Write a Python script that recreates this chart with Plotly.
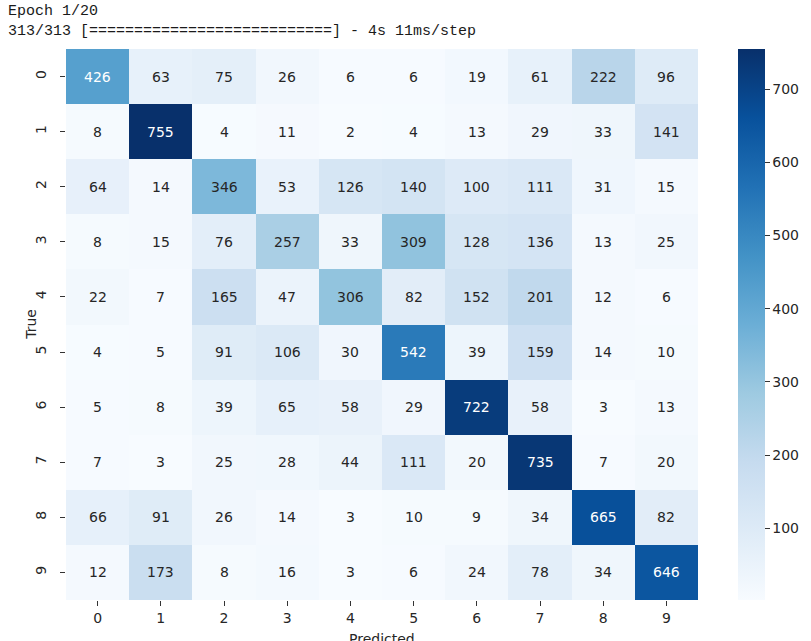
import plotly.graph_objects as go
import plotly.colors as pc

# Confusion matrix after epoch 1 (rows: true class, columns: predicted class)
classes = ["0", "1", "2", "3", "4", "5", "6", "7", "8", "9"]
row_0 = [426, 63, 75, 26, 6, 6, 19, 61, 222, 96]
row_1 = [8, 755, 4, 11, 2, 4, 13, 29, 33, 141]
row_2 = [64, 14, 346, 53, 126, 140, 100, 111, 31, 15]
row_3 = [8, 15, 76, 257, 33, 309, 128, 136, 13, 25]
row_4 = [22, 7, 165, 47, 306, 82, 152, 201, 12, 6]
row_5 = [4, 5, 91, 106, 30, 542, 39, 159, 14, 10]
row_6 = [5, 8, 39, 65, 58, 29, 722, 58, 3, 13]
row_7 = [7, 3, 25, 28, 44, 111, 20, 735, 7, 20]
row_8 = [66, 91, 26, 14, 3, 10, 9, 34, 665, 82]
row_9 = [12, 173, 8, 16, 3, 6, 24, 78, 34, 646]
matrix = [row_0, row_1, row_2, row_3, row_4, row_5, row_6, row_7, row_8, row_9]
colorbar_ticks = [100, 200, 300, 400, 500, 600, 700]
header_lines = ["Epoch 1/20", "313/313 [===========================] - 4s 11ms/step"]

W, H = 811, 641
L, R, T, B = 66, 109, 49, 41
plot_w = W - L - R
plot_h = H - T - B
TEXT = "#262626"

flat = [v for r in matrix for v in r]
zmin, zmax = min(flat), max(flat)

fig = go.Figure(
    go.Heatmap(
        z=matrix,
        x=classes,
        y=classes,
        colorscale=pc.sequential.Blues,
        zmin=zmin,
        zmax=zmax,
        hoverinfo="skip",
        colorbar=dict(
            x=(742 - L) / plot_w,
            xanchor="left",
            xpad=0,
            ypad=0,
            y=0.5,
            yanchor="middle",
            len=1,
            lenmode="fraction",
            thickness=27,
            thicknessmode="pixels",
            outlinewidth=0,
            tickvals=colorbar_ticks,
            ticks="outside",
            ticklen=5,
            tickwidth=1,
            tickcolor="#333",
            tickfont=dict(family="DejaVu Sans", size=14, color=TEXT),
        ),
    )
)

# Cell value labels: light text on dark cells, dark text elsewhere
for i, row in enumerate(matrix):
    for j, v in enumerate(row):
        fig.add_annotation(
            x=classes[j], y=classes[i], text=str(v), showarrow=False,
            font=dict(family="DejaVu Sans", size=14,
                      color="white" if v > 400 else TEXT),
        )

# Training log header above the heatmap
for k, line in enumerate(header_lines):
    fig.add_annotation(
        x=(6 - L) / plot_w, y=1 + (T - (12 + 19 * k)) / plot_h,
        xref="paper", yref="paper", xanchor="left", yanchor="middle",
        text=line, showarrow=False,
        font=dict(family="Liberation Mono", size=15, color="#1a1a1a"),
    )

# Axis titles
fig.add_annotation(
    x=(20 - L) / plot_w, y=0.5, xref="paper", yref="paper",
    text="True", textangle=-90, showarrow=False,
    font=dict(family="DejaVu Sans", size=14, color=TEXT),
)
fig.add_annotation(
    x=0.5, y=-(639 - (H - B)) / plot_h, xref="paper", yref="paper",
    text="Predicted", showarrow=False, yanchor="middle",
    font=dict(family="DejaVu Sans", size=14, color=TEXT),
)

fig.update_xaxes(
    type="category", showgrid=False, zeroline=False, showline=False,
    ticks="outside", ticklen=5, tickwidth=1, tickcolor="#333",
    tickfont=dict(family="DejaVu Sans", size=14, color=TEXT),
    automargin=False,
)
fig.update_yaxes(
    type="category", autorange="reversed", showgrid=False, zeroline=False,
    showline=False, ticks="outside", ticklen=5, tickwidth=1, tickcolor="#333",
    tickangle=-90, ticklabelstandoff=8,
    tickfont=dict(family="DejaVu Sans", size=14, color=TEXT),
    automargin=False,
)
fig.update_layout(
    width=W, height=H,
    margin=dict(l=L, r=R, t=T, b=B, pad=0),
    paper_bgcolor="white", plot_bgcolor="white",
    showlegend=False,
)

fig.write_html("out.html")
